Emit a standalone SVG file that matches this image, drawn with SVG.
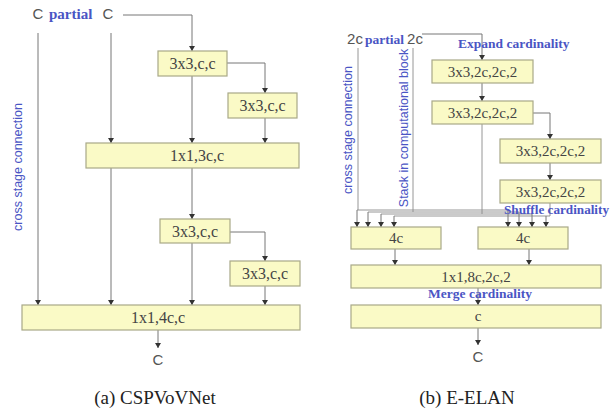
<svg xmlns="http://www.w3.org/2000/svg" width="611" height="412" viewBox="0 0 611 412">
<style>
.box{fill:#fafac6;stroke:#a8a888;stroke-width:1.2}
.bt{font-family:"Liberation Serif",serif;font-size:16px;fill:#444;text-anchor:middle}
.bt2{font-family:"Liberation Serif",serif;font-size:15px;fill:#444;text-anchor:middle}
.lbl{font-family:"Liberation Sans",sans-serif;font-size:15px;fill:#555;text-anchor:middle}
.blue{font-family:"Liberation Serif",serif;font-weight:bold;fill:#4a55c4}
.vt{font-family:"Liberation Sans",sans-serif;font-size:12.5px;fill:#4a55c4;text-anchor:middle}
.cap{font-family:"Liberation Serif",serif;font-size:19px;fill:#222;text-anchor:middle}
.ln{fill:none;stroke:#8a8a8a;stroke-width:0.9}
.ar{fill:none;stroke:#777;stroke-width:1;marker-end:url(#ah)}
</style>
<defs>
<marker id="ah" markerUnits="userSpaceOnUse" markerWidth="6" markerHeight="7" refX="5" refY="3" orient="auto">
<path d="M0,0 L5,3 L0,6 Z" fill="#333"/>
</marker>
</defs>
<rect width="611" height="412" fill="#fff"/>

<g id="connectors">
<!-- panel a -->
<path class="ar" d="M38,33 V305"/>
<path class="ar" d="M111,33 V143"/>
<path class="ar" d="M111,168 V305"/>
<path class="ar" d="M123,15 H192 V51"/>
<path class="ar" d="M192,76 V143"/>
<path class="ar" d="M227,63 H265 V93"/>
<path class="ar" d="M265,118 V143"/>
<path class="ar" d="M192,168 V219"/>
<path class="ar" d="M230,232 H265 V261"/>
<path class="ar" d="M192,243 V305"/>
<path class="ar" d="M265,286 V305"/>
<path class="ar" d="M158,330 V348"/>
<!-- panel b -->
<path class="ar" d="M422,34 H482 V60"/>
<path class="ar" d="M482,83 V101"/>
<path class="ar" d="M533,113 H550 V139"/>
<path class="ar" d="M550,163 V180"/>
<path class="ln" d="M358,48 V210 M357,210 H508"/>
<path class="ln" d="M413,48 V212 M368,212 H519"/>
<path class="ln" d="M482,124 V214 M381,214 H532"/>
<path class="ln" d="M550,203 V216 M394,216 H550"/>
<path class="ar" d="M357,210 V227"/>
<path class="ar" d="M368,212 V227"/>
<path class="ar" d="M381,214 V227"/>
<path class="ar" d="M394,216 V227"/>
<path class="ar" d="M508,210 V227"/>
<path class="ar" d="M519,212 V227"/>
<path class="ar" d="M532,214 V227"/>
<path class="ar" d="M546,216 V227"/>
<path class="ar" d="M395,249 V265"/>
<path class="ar" d="M529,249 V265"/>
<path class="ar" d="M478,288 V305"/>
<path class="ar" d="M478,328 V345"/>
</g>

<!-- panel a labels -->
<g id="a-inputs">
<text class="lbl" x="38" y="19">C</text>
<text class="blue" x="49" y="19" font-size="15">partial</text>
<text class="lbl" x="108" y="19">C</text>
</g>
<text class="vt" transform="translate(22,167) rotate(-90)">cross stage connection</text>

<g id="a-n1"><rect class="box" x="158" y="51" width="69" height="25"/><text class="bt" x="192.5" y="69">3x3,c,c</text></g>
<g id="a-n2"><rect class="box" x="228" y="93" width="69" height="25"/><text class="bt" x="262.5" y="111">3x3,c,c</text></g>
<g id="a-n3"><rect class="box" x="86" y="143" width="213" height="25"/><text class="bt" x="197" y="161">1x1,3c,c</text></g>
<g id="a-n4"><rect class="box" x="160" y="219" width="70" height="24"/><text class="bt" x="195" y="237">3x3,c,c</text></g>
<g id="a-n5"><rect class="box" x="230" y="261" width="70" height="25"/><text class="bt" x="265" y="279">3x3,c,c</text></g>
<g id="a-n6"><rect class="box" x="22" y="305" width="278" height="25"/><text class="bt" x="158" y="323">1x1,4c,c</text></g>
<g id="a-out"><text class="lbl" x="158" y="365">C</text></g>
<text class="cap" x="155" y="404">(a) CSPVoVNet</text>

<!-- panel b labels -->
<g id="b-inputs">
<text class="lbl" x="355" y="44">2c</text>
<text class="blue" x="365" y="44" font-size="13.5">partial</text>
<text class="lbl" x="415" y="44">2c</text>
</g>
<text class="vt" transform="translate(352,130) rotate(-90)">cross stage connection</text>
<text class="vt" transform="translate(408,128) rotate(-90)">Stack in computational block</text>
<text class="blue" x="458" y="48" font-size="13.5">Expand cardinality</text>

<g id="b-n1"><rect class="box" x="432" y="60" width="101" height="23"/><text class="bt2" x="482.5" y="77">3x3,2c,2c,2</text></g>
<g id="b-n2"><rect class="box" x="432" y="101" width="101" height="23"/><text class="bt2" x="482.5" y="118">3x3,2c,2c,2</text></g>
<g id="b-n3"><rect class="box" x="500" y="139" width="101" height="24"/><text class="bt2" x="550.5" y="156">3x3,2c,2c,2</text></g>
<g id="b-n4"><rect class="box" x="500" y="180" width="101" height="23"/><text class="bt2" x="550.5" y="197">3x3,2c,2c,2</text></g>
<text class="blue" x="504" y="214" font-size="12" textLength="105" lengthAdjust="spacingAndGlyphs">Shuffle cardinality</text>
<g id="b-n5"><rect class="box" x="351" y="227" width="90" height="22"/><text class="bt2" x="396" y="243">4c</text></g>
<g id="b-n6"><rect class="box" x="478" y="227" width="90" height="22"/><text class="bt2" x="523" y="243">4c</text></g>
<g id="b-n7"><rect class="box" x="351" y="265" width="250" height="23"/><text class="bt2" x="476" y="282">1x1,8c,2c,2</text></g>
<text class="blue" x="480" y="298" font-size="13.5" text-anchor="middle">Merge cardinality</text>
<g id="b-n8"><rect class="box" x="351" y="305" width="250" height="23"/><text class="bt2" x="478" y="321">c</text></g>
<g id="b-out"><text class="lbl" x="478" y="362">C</text></g>
<text class="cap" x="467" y="404">(b) E-ELAN</text>
</svg>
